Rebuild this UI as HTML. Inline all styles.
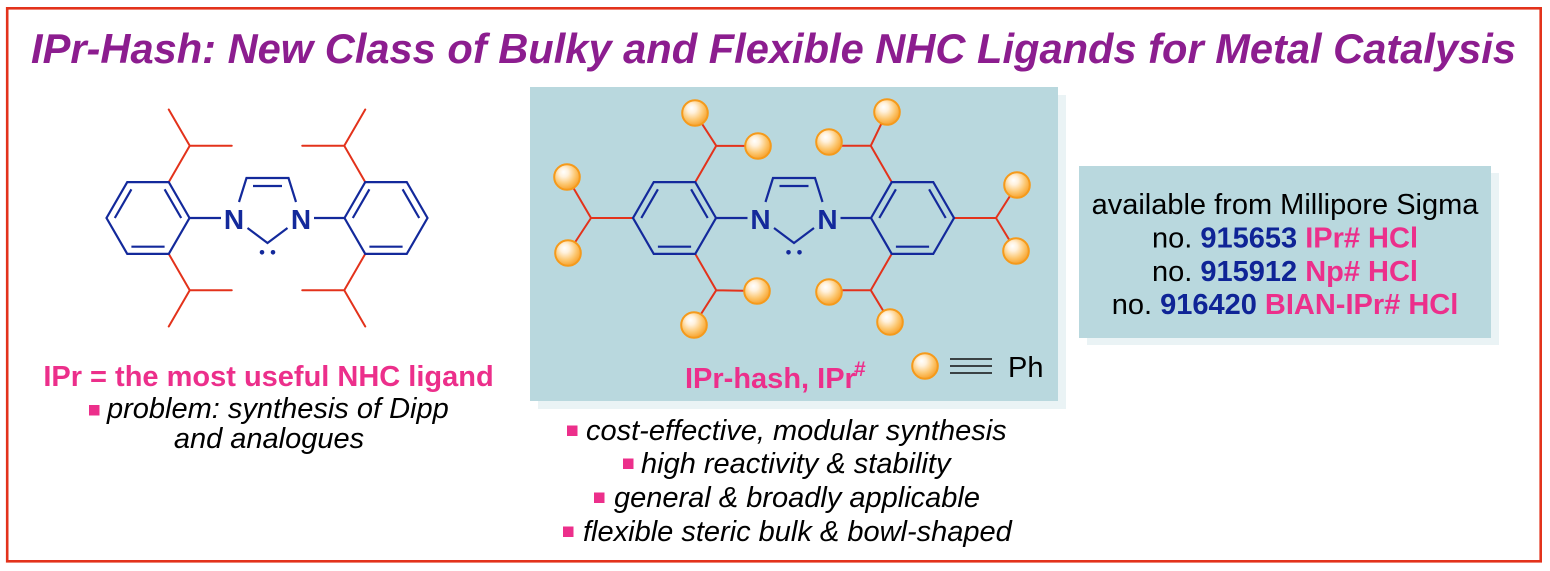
<!DOCTYPE html>
<html>
<head>
<meta charset="utf-8">
<style>
html,body{margin:0;padding:0;background:#ffffff;}
svg{display:block;}
</style>
</head>
<body>
<svg width="1550" height="571" viewBox="0 0 1550 571" xmlns="http://www.w3.org/2000/svg" font-family="'Liberation Sans', Arial, sans-serif">
<defs>
<radialGradient id="ball" cx="0.42" cy="0.38" r="0.64" fx="0.36" fy="0.30">
<stop offset="0" stop-color="#ffffff"/>
<stop offset="0.28" stop-color="#fff1dc"/>
<stop offset="0.68" stop-color="#fcc66e"/>
<stop offset="1" stop-color="#f7a02a"/>
</radialGradient>
</defs>

<rect x="0" y="0" width="1550" height="571" fill="#ffffff"/>
<rect x="7.2" y="8.3" width="1533.5" height="553" fill="none" stroke="#e3321b" stroke-width="2.6"/>

<!-- Title -->
<text x="773.5" y="63" text-anchor="middle" font-size="42" font-weight="bold" font-style="italic" fill="#8c1d8f" textLength="1485" lengthAdjust="spacingAndGlyphs">IPr-Hash: New Class of Bulky and Flexible NHC Ligands for Metal Catalysis</text>

<!-- Center box + shadow -->
<rect x="538" y="95" width="528" height="314" fill="#eaf3f5"/>
<rect x="530" y="87" width="528" height="314" fill="#b9d8de"/>

<!-- Right box + shadow -->
<rect x="1087" y="173" width="412" height="172" fill="#eaf3f5"/>
<rect x="1079" y="166" width="412" height="172" fill="#b9d8de"/>

<!-- ===== Left molecule (IPr) ===== -->
<g stroke="#e3321b" stroke-width="2" fill="none" stroke-linecap="round">
  <g transform="translate(148,218)">
    <path d="M20.75,-35.9L41.75,-72.2L83.75,-72.2M41.75,-72.2L20.75,-108.5M20.75,35.9L41.75,72.2L83.75,72.2M41.75,72.2L20.75,108.5"/>
  </g>
  <g transform="translate(386,218) scale(-1,1)">
    <path d="M20.75,-35.9L41.75,-72.2L83.75,-72.2M41.75,-72.2L20.75,-108.5M20.75,35.9L41.75,72.2L83.75,72.2M41.75,72.2L20.75,108.5"/>
  </g>
</g>
<g stroke="#13299b" stroke-width="2.2" fill="none" stroke-linejoin="miter">
  <g transform="translate(148,218)">
    <polygon points="41.5,0 20.75,-35.9 -20.75,-35.9 -41.5,0 -20.75,35.9 20.75,35.9"/>
    <path d="M-16.6,-28.7L-33.2,0M16.6,-28.7L33.2,0M-16.6,28.7L16.6,28.7"/>
  </g>
  <g transform="translate(386,218) scale(-1,1)">
    <polygon points="41.5,0 20.75,-35.9 -20.75,-35.9 -41.5,0 -20.75,35.9 20.75,35.9"/>
    <path d="M-16.6,-28.7L-33.2,0M16.6,-28.7L33.2,0M-16.6,28.7L16.6,28.7"/>
  </g>
  <path d="M239,202L246.5,178L288.5,178L296,202M247.5,228L267.5,243L287.5,228M253,186L282,186M189.5,218L221,218M314,218L344.5,218"/>
</g>
<g fill="#13299b">
  <circle cx="262" cy="252.3" r="2.3"/>
  <circle cx="273" cy="252.3" r="2.3"/>
  <text x="234" y="229" text-anchor="middle" font-size="28" font-weight="bold">N</text>
  <text x="301" y="229" text-anchor="middle" font-size="28" font-weight="bold">N</text>
</g>

<!-- ===== Center molecule (IPr#) ===== -->
<g stroke="#e3321b" stroke-width="2" fill="none" stroke-linecap="round">
  <path d="M695.25,182.1L716.25,145.8L758,146M716.25,145.8L695,113"/>
  <path d="M695.25,253.9L716.25,290.2L757,291M716.25,290.2L694,325"/>
  <path d="M633,218L591,218L567,177M591,218L568,253"/>
  <path d="M891.75,182.1L870.75,145.8L829,145.8M870.75,145.8L887,112"/>
  <path d="M891.75,253.9L870.75,290.2L829,290.2M870.75,290.2L890,322"/>
  <path d="M954,218L996,218L1017,185M996,218L1016,251"/>
</g>
<g stroke="#13299b" stroke-width="2.2" fill="none" stroke-linejoin="miter">
  <g transform="translate(674.5,218)">
    <polygon points="41.5,0 20.75,-35.9 -20.75,-35.9 -41.5,0 -20.75,35.9 20.75,35.9"/>
    <path d="M-16.6,-28.7L-33.2,0M16.6,-28.7L33.2,0M-16.6,28.7L16.6,28.7"/>
  </g>
  <g transform="translate(912.5,218) scale(-1,1)">
    <polygon points="41.5,0 20.75,-35.9 -20.75,-35.9 -41.5,0 -20.75,35.9 20.75,35.9"/>
    <path d="M-16.6,-28.7L-33.2,0M16.6,-28.7L33.2,0M-16.6,28.7L16.6,28.7"/>
  </g>
  <g transform="translate(526.5,0)">
    <path d="M239,202L246.5,178L288.5,178L296,202M247.5,228L267.5,243L287.5,228M253,186L282,186M189.5,218L221,218M314,218L344.5,218"/>
  </g>
</g>
<g fill="#13299b">
  <circle cx="788.5" cy="252.3" r="2.3"/>
  <circle cx="799.5" cy="252.3" r="2.3"/>
  <text x="760.5" y="229" text-anchor="middle" font-size="28" font-weight="bold">N</text>
  <text x="827.5" y="229" text-anchor="middle" font-size="28" font-weight="bold">N</text>
</g>

<!-- Balls -->
<g fill="url(#ball)" stroke="#f59a1b" stroke-width="2">
  <circle cx="758" cy="146" r="12.8"/>
  <circle cx="695" cy="113" r="12.8"/>
  <circle cx="757" cy="291" r="12.8"/>
  <circle cx="694" cy="325" r="12.8"/>
  <circle cx="567" cy="177" r="12.8"/>
  <circle cx="568" cy="253" r="12.8"/>
  <circle cx="829" cy="142" r="12.8"/>
  <circle cx="887" cy="112" r="12.8"/>
  <circle cx="829" cy="292" r="12.8"/>
  <circle cx="890" cy="322" r="12.8"/>
  <circle cx="1017" cy="185" r="12.8"/>
  <circle cx="1016" cy="251" r="12.8"/>
  <circle cx="925" cy="366" r="12.8"/>
</g>

<!-- Legend lines -->
<g stroke="#111111" stroke-width="1.6">
  <line x1="950" y1="359" x2="992" y2="359"/>
  <line x1="950" y1="366" x2="992" y2="366"/>
  <line x1="950" y1="373" x2="992" y2="373"/>
</g>
<text x="1008" y="377" font-size="29" fill="#000000">Ph</text>

<!-- IPr-hash label -->
<text x="685" y="388" font-size="29" font-weight="bold" fill="#ec2f8b">IPr-hash, IPr</text>
<text x="854" y="376" font-size="21" font-weight="bold" fill="#ec2f8b">#</text>

<!-- Left text -->
<text x="268.5" y="386" text-anchor="middle" font-size="29" font-weight="bold" fill="#ec2f8b">IPr = the most useful NHC ligand</text>
<rect x="89" y="405" width="10.5" height="10.5" fill="#ec2f8b"/>
<text x="107" y="418" font-size="29" font-style="italic" fill="#000000">problem: synthesis of Dipp</text>
<text x="269" y="448" text-anchor="middle" font-size="29" font-style="italic" fill="#000000">and analogues</text>

<!-- Center bullets -->
<g fill="#ec2f8b">
  <rect x="567" y="425.5" width="10.5" height="10.5"/>
  <rect x="623" y="458.5" width="10.5" height="10.5"/>
  <rect x="594" y="492.5" width="10.5" height="10.5"/>
  <rect x="563" y="526.5" width="10.5" height="10.5"/>
</g>
<g font-size="29" font-style="italic" fill="#000000">
  <text x="586" y="440">cost-effective, modular synthesis</text>
  <text x="641" y="473">high reactivity &amp; stability</text>
  <text x="614" y="507">general &amp; broadly applicable</text>
  <text x="583" y="541">flexible steric bulk &amp; bowl-shaped</text>
</g>

<!-- Right box text -->
<g font-size="29" text-anchor="middle" fill="#000000">
  <text x="1285" y="214">available from Millipore Sigma</text>
  <text x="1285" y="247.5">no. <tspan font-weight="bold" fill="#0f2496">915653</tspan> <tspan font-weight="bold" fill="#ec2f8b">IPr# HCl</tspan></text>
  <text x="1285" y="281">no. <tspan font-weight="bold" fill="#0f2496">915912</tspan> <tspan font-weight="bold" fill="#ec2f8b">Np# HCl</tspan></text>
  <text x="1285" y="314">no. <tspan font-weight="bold" fill="#0f2496">916420</tspan> <tspan font-weight="bold" fill="#ec2f8b">BIAN-IPr# HCl</tspan></text>
</g>
</svg>
</body>
</html>
